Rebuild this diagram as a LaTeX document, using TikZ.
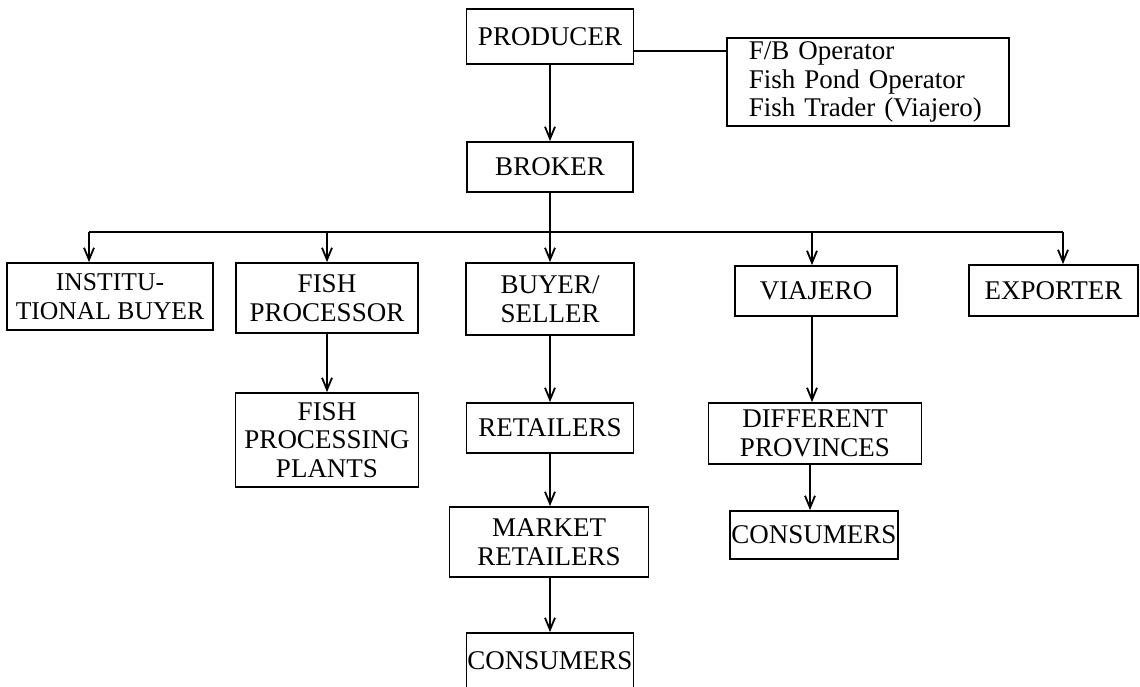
\documentclass[tikz,border=0pt]{standalone}
\usepackage{fontspec}
\setmainfont{Liberation Serif}
\usetikzlibrary{arrows.meta}
\begin{document}
\begin{tikzpicture}[x=1pt,y=-1pt,
  box/.style={draw, line width=1.8pt, inner sep=0pt, align=center,
    font=\fontsize{27}{28.5}\selectfont},
  arr/.style={line width=1.8pt, -{Straight Barb[length=12pt,width=10pt,line width=1.8pt]}},
  ln/.style={line width=1.8pt}]
\useasboundingbox (0,0) rectangle (1140,687);
% nodes
\node[box, minimum width=167pt, minimum height=55pt] (producer) at (550,36.5) {PRODUCER};
\node[box, anchor=west, text width=238pt, inner xsep=22pt, minimum height=88pt, align=left] (list) at (726,82)
  {F/B Operator\\Fish Pond Operator\\Fish Trader (Viajero)};
\node[box, minimum width=166pt, minimum height=50pt] (broker) at (550,167) {BROKER};
\node[box, minimum width=206pt, minimum height=67pt, font=\fontsize{25.6}{28.5}\selectfont] (inst) at (110,296.5) {INSTITU-\\TIONAL BUYER};
\node[box, minimum width=182pt, minimum height=70pt] (fproc) at (327,298) {FISH\\PROCESSOR};
\node[box, minimum width=168pt, minimum height=72pt] (buyer) at (550,299) {BUYER/\\SELLER};
\node[box, minimum width=162pt, minimum height=50pt] (viajero) at (816,291) {VIAJERO};
\node[box, minimum width=169pt, minimum height=51pt] (exporter) at (1053.5,290.5) {EXPORTER};
\node[box, minimum width=183pt, minimum height=94pt] (fpp) at (327,440) {FISH\\PROCESSING\\PLANTS};
\node[box, minimum width=167pt, minimum height=50pt] (retailers) at (550,428) {RETAILERS};
\node[box, minimum width=213pt, minimum height=61pt] (diffprov) at (815,433.5) {DIFFERENT\\PROVINCES};
\node[box, minimum width=199pt, minimum height=70pt] (mretail) at (549,542) {MARKET\\RETAILERS};
\node[box, minimum width=168pt, minimum height=48pt] (cons1) at (814,535) {CONSUMERS};
\node[box, minimum width=167pt, minimum height=56pt] (cons2) at (550,661) {CONSUMERS};
% bus
\coordinate (bL) at (89,232);
\coordinate (bR) at (1063,232);
% connectors
\draw[arr] (producer.south) -- (broker.north);
\draw[ln] ([yshift=-14.5pt]producer.east) coordinate (pe) -- (pe -| list.west);
\draw[ln] (bL) -- (bR);
\draw[ln] (broker.south) -- (broker.south |- bL);
\draw[arr] (bL) -- (bL |- inst.north);
\draw[arr] (fproc.north |- bL) -- (fproc.north);
\draw[arr] (broker.south |- bL) -- (broker.south |- buyer.north);
\draw[arr] ([xshift=-4pt]viajero.north |- bL) -- ([xshift=-4pt]viajero.north);
\draw[arr] (bR) -- (bR |- exporter.north);
\draw[arr] (fproc.south) -- (fproc.south |- fpp.north);
\draw[arr] (buyer.south) -- (buyer.south |- retailers.north);
\draw[arr] (retailers.south) -- (retailers.south |- mretail.north);
\draw[arr] (retailers.south |- mretail.south) -- (retailers.south |- cons2.north);
\draw[arr] ([xshift=-4pt]viajero.south) -- ([xshift=-4pt]viajero.south |- diffprov.north);
\draw[arr] ([xshift=-5pt]diffprov.south) -- ([xshift=-5pt]diffprov.south |- cons1.north);
\end{tikzpicture}
\end{document}
